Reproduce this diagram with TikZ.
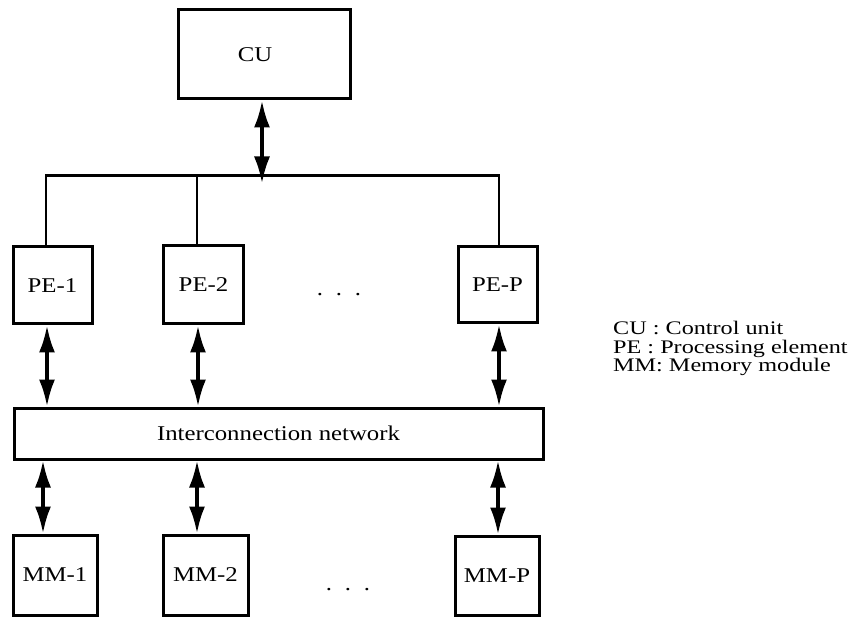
\documentclass[tikz,border=0pt]{standalone}
\usepackage{fontspec}
\usetikzlibrary{arrows.meta,calc}
\newfontfamily\mainfnt[FakeStretch=1.18]{Liberation Serif}
\newfontfamily\legendfnt[FakeStretch=1.26]{Liberation Serif}
\begin{document}
\begin{tikzpicture}[x=1pt,y=-1pt,
  box/.style={draw=black,line width=3pt,fill=white,inner sep=0pt,
    font=\mainfnt\fontsize{21}{24}\selectfont},
  bus/.style={line width=2.6pt},
  tip/.tip={Latex[length=27pt,width=16pt]},
  biarrow/.style={line width=3.4pt,tip-tip},
  dotstxt/.style={font=\mainfnt\fontsize{21}{24}\selectfont,inner sep=0pt,anchor=base},
  legend/.style={font=\legendfnt\fontsize{19.2}{15}\selectfont,inner sep=0pt,anchor=base west}
]
\useasboundingbox (0,0) rectangle (859,617);

\node[box,minimum width=172pt,minimum height=89pt] (cu) at (264,54.5) {\hspace*{-18pt}CU};

\node[box,minimum width=79pt,minimum height=77pt] (pe1) at (52.5,285.5) {PE-1};
\node[box,minimum width=80pt,minimum height=78pt] (pe2) at (203.5,285) {PE-2};
\node[box,minimum width=79pt,minimum height=76pt] (pep) at (497.5,285) {PE-P};

\node[box,minimum width=529pt,minimum height=51pt] (net) at (278.5,433.5) {Interconnection network};

\node[box,minimum width=84pt,minimum height=80pt] (mm1) at (55,575) {MM-1};
\node[box,minimum width=85pt,minimum height=80pt] (mm2) at (205.5,575) {MM-2};
\node[box,minimum width=84pt,minimum height=79pt] (mmp) at (497,575.5) {MM-P};

\node[dotstxt] (dots1) at (339,296) {.\hspace{12.8pt}.\hspace{12.8pt}.};
\node[dotstxt] (dots2) at (348,590) {.\hspace{12.8pt}.\hspace{12.8pt}.};

% bus
\coordinate (busmid) at ($(cu.south)+(-2,75)$);
\coordinate (cutip) at ($(busmid)+(0,8)$);
\coordinate (busl) at ([xshift=-6.5pt]pe1.north |- busmid);
\coordinate (bus2) at ([xshift=-6.5pt]pe2.north |- busmid);
\coordinate (busr) at ([xshift=1.5pt]pep.north |- busmid);
\draw[bus] ([xshift=-6.5pt]pe1.north) -- (busl) -- (busr) -- ([xshift=1.5pt]pep.north);
\draw[bus] (bus2) -- ([xshift=-6.5pt]pe2.north);
\draw[biarrow] ([xshift=-2pt]cu.south) -- (cutip);

% PE to network
\draw[biarrow] ([xshift=-5.5pt]pe1.south) -- ([xshift=-5.5pt]pe1.south |- net.north);
\draw[biarrow] ([xshift=-5.5pt]pe2.south) -- ([xshift=-5.5pt]pe2.south |- net.north);
\draw[biarrow] ([xshift=1.5pt]pep.south) -- ([xshift=1.5pt]pep.south |- net.north);

% network to MM
\draw[biarrow] ([xshift=-12pt]mm1.north |- net.south) -- ([xshift=-12pt]mm1.north);
\draw[biarrow] ([xshift=-8.5pt]mm2.north |- net.south) -- ([xshift=-8.5pt]mm2.north);
\draw[biarrow] ([xshift=1pt]mmp.north |- net.south) -- ([xshift=1pt]mmp.north);

% legend
\node[legend] (leg1) at (613,335) {CU : Control unit};
\node[legend] (leg2) at (613,353.5) {PE : Processing element};
\node[legend] (leg3) at (613,371.5) {MM: Memory module};
\end{tikzpicture}
\end{document}
